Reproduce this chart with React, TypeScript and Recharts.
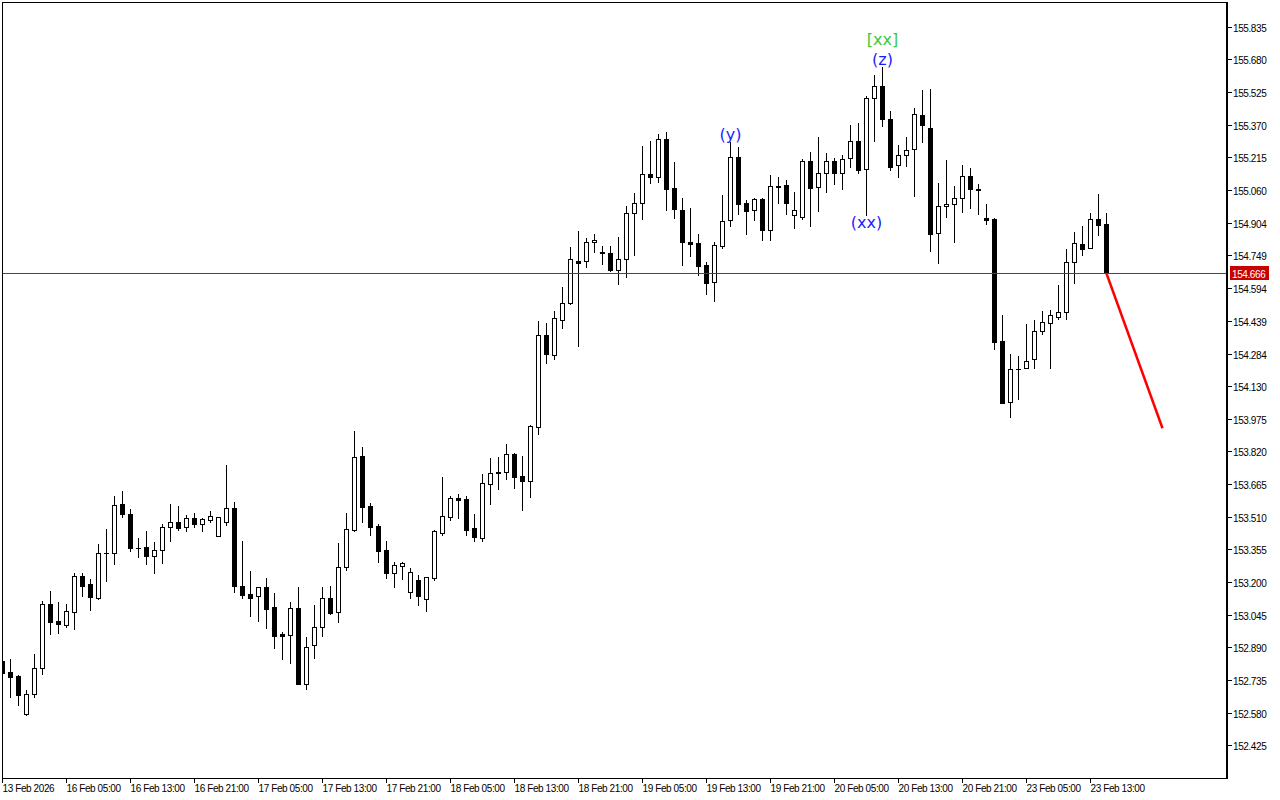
import React from 'react';
import { ComposedChart, Bar, Line, XAxis, YAxis, ReferenceLine, ReferenceDot } from 'recharts';

// H1 candles, 13 Feb 21:00 .. 23 Feb 15:00
const opens = [
  152.828, 152.776, 152.757, 152.577, 152.672, 152.795, 153.098, 153.018, 152.999, 153.060,
  153.231, 153.193, 153.127, 153.338, 153.340, 153.573, 153.525, 153.366, 153.369, 153.326,
  153.355, 153.464, 153.487, 153.464, 153.506, 153.478, 153.497, 153.421, 153.487, 153.554,
  153.184, 153.146, 153.136, 153.179, 153.084, 152.954, 152.951, 153.079, 152.719, 152.904,
  152.989, 153.127, 153.060, 153.274, 153.449, 153.800, 153.563, 153.468, 153.355, 153.245,
  153.279, 153.155, 153.212, 153.122, 153.222, 153.435, 153.511, 153.599, 153.596, 153.459,
  153.411, 153.668, 153.718, 153.724, 153.810, 153.705, 153.682, 153.938, 154.374, 154.279,
  154.445, 154.526, 154.723, 154.725, 154.815, 154.766, 154.763, 154.682, 154.735, 154.953,
  155.000, 155.138, 155.124, 155.304, 155.071, 154.967, 154.813, 154.811, 154.706, 154.626,
  154.796, 154.920, 155.218, 155.000, 154.967, 155.019, 154.872, 155.083, 155.086, 154.943,
  154.934, 155.199, 155.076, 155.143, 155.199, 155.143, 155.214, 155.294, 155.161, 155.498,
  155.555, 155.399, 155.180, 155.228, 155.256, 155.418, 155.356, 154.858, 154.986, 154.995,
  155.024, 155.128, 155.069, 154.927, 154.924, 154.346, 154.056, 154.211, 154.218, 154.260,
  154.393, 154.431, 154.460, 154.483, 154.720, 154.806, 154.787, 154.924, 154.901,
];

const highs = [
  152.842, 152.838, 152.762, 152.691, 152.861, 153.113, 153.160, 153.108, 153.098, 153.245,
  153.245, 153.217, 153.383, 153.454, 153.611, 153.634, 153.549, 153.411, 153.445, 153.392,
  153.478, 153.573, 153.563, 153.521, 153.530, 153.506, 153.539, 153.511, 153.758, 153.582,
  153.397, 153.255, 153.179, 153.222, 153.151, 152.966, 153.108, 153.179, 152.942, 153.094,
  153.179, 153.184, 153.388, 153.530, 153.919, 153.843, 153.577, 153.478, 153.397, 153.298,
  153.298, 153.269, 153.236, 153.226, 153.449, 153.701, 153.611, 153.620, 153.611, 153.525,
  153.715, 153.791, 153.796, 153.857, 153.815, 153.800, 153.947, 154.441, 154.431, 154.488,
  154.602, 154.792, 154.867, 154.834, 154.853, 154.796, 154.796, 154.839, 154.986, 155.048,
  155.271, 155.294, 155.327, 155.337, 155.195, 155.024, 154.977, 154.853, 154.720, 154.815,
  155.038, 155.290, 155.266, 155.014, 155.022, 155.022, 155.133, 155.124, 155.109, 155.052,
  155.209, 155.242, 155.313, 155.237, 155.214, 155.228, 155.370, 155.380, 155.508, 155.607,
  155.645, 155.437, 155.275, 155.313, 155.451, 155.536, 155.541, 155.095, 155.204, 155.081,
  155.180, 155.166, 155.090, 154.995, 154.929, 154.469, 154.284, 154.275, 154.426, 154.445,
  154.488, 154.493, 154.611, 154.782, 154.863, 154.891, 154.953, 155.043, 154.953,
];

const lows = [
  152.757, 152.657, 152.619, 152.572, 152.657, 152.766, 152.956, 152.961, 152.989, 152.980,
  153.136, 153.070, 153.122, 153.207, 153.288, 153.511, 153.350, 153.321, 153.288, 153.245,
  153.293, 153.397, 153.449, 153.445, 153.464, 153.445, 153.487, 153.421, 153.473, 153.155,
  153.127, 153.041, 153.018, 152.985, 152.890, 152.838, 152.819, 152.717, 152.695, 152.842,
  152.947, 153.051, 153.013, 153.260, 153.445, 153.487, 153.426, 153.298, 153.222, 153.179,
  153.217, 153.127, 153.094, 153.065, 153.212, 153.426, 153.497, 153.506, 153.426, 153.397,
  153.397, 153.573, 153.644, 153.691, 153.649, 153.544, 153.606, 153.905, 154.241, 154.260,
  154.407, 154.521, 154.322, 154.697, 154.768, 154.711, 154.678, 154.616, 154.649, 154.754,
  154.924, 155.095, 155.100, 154.967, 154.929, 154.706, 154.749, 154.659, 154.569, 154.535,
  154.787, 154.891, 154.948, 154.853, 154.920, 154.825, 154.825, 155.000, 154.948, 154.882,
  154.924, 154.891, 154.962, 155.052, 155.090, 155.067, 155.171, 155.143, 154.943, 155.294,
  155.365, 155.157, 155.124, 155.176, 155.033, 155.290, 154.773, 154.716, 154.934, 154.815,
  154.958, 154.977, 154.948, 154.901, 154.308, 154.050, 153.985, 154.071, 154.216, 154.218,
  154.379, 154.218, 154.450, 154.450, 154.621, 154.754, 154.785, 154.848, 154.664,
];

const closes = [
  152.771, 152.752, 152.667, 152.672, 152.795, 153.098, 153.013, 153.004, 153.065, 153.231,
  153.184, 153.132, 153.340, 153.342, 153.568, 153.525, 153.364, 153.362, 153.326, 153.355,
  153.464, 153.487, 153.459, 153.506, 153.478, 153.502, 153.516, 153.511, 153.554, 153.184,
  153.141, 153.127, 153.179, 153.075, 152.947, 152.949, 153.079, 152.719, 152.894, 152.989,
  153.127, 153.056, 153.274, 153.454, 153.796, 153.558, 153.464, 153.350, 153.245, 153.283,
  153.293, 153.250, 153.136, 153.226, 153.445, 153.516, 153.601, 153.594, 153.449, 153.416,
  153.672, 153.720, 153.724, 153.810, 153.701, 153.682, 153.943, 154.374, 154.284, 154.455,
  154.526, 154.735, 154.718, 154.815, 154.825, 154.761, 154.682, 154.735, 154.953, 155.000,
  155.138, 155.124, 155.304, 155.067, 154.972, 154.815, 154.808, 154.701, 154.621, 154.801,
  154.915, 155.218, 154.995, 154.962, 155.019, 154.872, 155.081, 155.078, 155.000, 154.967,
  155.199, 155.071, 155.143, 155.199, 155.143, 155.209, 155.294, 155.157, 155.498, 155.555,
  155.399, 155.171, 155.228, 155.252, 155.422, 155.370, 154.853, 154.986, 154.995, 155.024,
  155.128, 155.067, 155.064, 154.922, 154.341, 154.052, 154.213, 154.215, 154.251, 154.393,
  154.436, 154.469, 154.483, 154.720, 154.811, 154.782, 154.924, 154.896, 154.666,
];

// forecast segment (red line) from the last close
const forecast = [
  { bar: 138, price: 154.666 },
  { bar: 145, price: 153.932 },
];

const lastPrice = 154.666;

const xTickBars = [0, 8, 16, 24, 32, 40, 48, 56, 64, 72, 80, 88, 96, 104, 112, 120, 128, 136];
const xTickLabels = [
  '13 Feb 2026', '16 Feb 05:00', '16 Feb 13:00', '16 Feb 21:00', '17 Feb 05:00', '17 Feb 13:00',
  '17 Feb 21:00', '18 Feb 05:00', '18 Feb 13:00', '18 Feb 21:00', '19 Feb 05:00', '19 Feb 13:00',
  '19 Feb 21:00', '20 Feb 05:00', '20 Feb 13:00', '20 Feb 21:00', '23 Feb 05:00', '23 Feb 13:00',
];

const yTickLabels = [
  '155.835', '155.680', '155.525', '155.370', '155.215', '155.060', '154.904', '154.749',
  '154.594', '154.439', '154.284', '154.130', '153.975', '153.820', '153.665', '153.510',
  '153.355', '153.200', '153.045', '152.890', '152.735', '152.580', '152.425',
];
const yTickValues = yTickLabels.map(Number);

// wave labels drawn on the chart
const waveLabels = [
  { bar: 91, price: 155.325, text: '(y)', color: '#1c1cff' },
  { bar: 110, price: 155.776, text: '[xx]', color: '#3cc83c' },
  { bar: 110, price: 155.681, text: '(z)', color: '#1c1cff' },
  { bar: 108, price: 154.91, text: '(xx)', color: '#1c1cff' },
];

const TOTAL_BARS = 146;

const data = Array.from({ length: TOTAL_BARS }, (_, i) => {
  const f = forecast.find(p => p.bar === i);
  return {
    i,
    open: opens[i],
    high: highs[i],
    low: lows[i],
    close: closes[i],
    proj: f ? f.price : undefined,
  };
});

const axisFont = { fontFamily: 'Liberation Sans, Arial, sans-serif', fontSize: 10, letterSpacing: -0.4 };

const Candle = (props: any) => {
  const { x, y, width, height, payload } = props;
  if (!payload || payload.high == null || y == null || height == null) return null;
  const { open, high, low, close } = payload;
  const ppu = height / (high - low || 1);
  const py = (p: number) => Math.round(y + (high - p) * ppu) + 0.5;
  const cx = Math.round(x + width / 2 - 0.5) + 0.5;
  const up = close >= open;
  const top = py(Math.max(open, close));
  const bot = py(Math.min(open, close));
  return (
    <g>
      <line x1={cx} x2={cx} y1={py(high) - 0.5} y2={py(low) + 0.5} stroke="#000" strokeWidth={1} />
      {bot - top < 1 ? (
        <line x1={cx - 2.5} x2={cx + 2.5} y1={top} y2={top} stroke="#000" strokeWidth={1} />
      ) : (
        <rect x={cx - 2} y={top} width={4} height={bot - top} fill={up ? '#fff' : '#000'} stroke="#000" strokeWidth={1} />
      )}
    </g>
  );
};

const XTick = (props: any) => {
  const { x, y, payload } = props;
  const k = xTickBars.indexOf(payload.value);
  const xx = Math.round(x - 0.5) + 0.5;
  return (
    <g>
      <line x1={xx} x2={xx} y1={y + 1} y2={y + 5} stroke="#000" />
      <text x={xx} y={y + 14} fill="#000" style={axisFont}>{xTickLabels[k]}</text>
    </g>
  );
};

const YTick = (props: any) => {
  const { x, y, payload } = props;
  const yy = Math.round(y - 0.5) + 0.5;
  if (payload.value === lastPrice) {
    return (
      <g>
        <rect x={x + 4} y={yy - 7.5} width={39} height={14} fill="#c80000" />
        <text x={x + 6} y={yy + 0.5} dominantBaseline="central" fill="#fff" style={axisFont}>
          {lastPrice.toFixed(3)}
        </text>
      </g>
    );
  }
  const k = yTickValues.indexOf(payload.value);
  return (
    <g>
      <line x1={x + 2} x2={x + 6} y1={yy} y2={yy} stroke="#000" />
      <text x={x + 7} y={yy + 0.5} dominantBaseline="central" fill="#000" style={axisFont}>
        {yTickLabels[k]}
      </text>
    </g>
  );
};

export default function App() {
  return (
    <div style={{ position: 'absolute', left: 0, top: 0, width: 1280, height: 800, background: '#fff' }}>
      <ComposedChart width={1280} height={800} data={data} margin={{ top: 2, right: 0, bottom: 0, left: 2 }}>
        <XAxis
          dataKey="i"
          type="number"
          domain={[-0.0625, 152.9375]}
          allowDataOverflow
          ticks={xTickBars}
          interval={0}
          tick={XTick}
          axisLine={false}
          tickLine={false}
          tickSize={0}
          tickMargin={0}
          height={22}
        />
        <YAxis
          orientation="right"
          type="number"
          domain={[152.2732, 155.9536]}
          allowDataOverflow
          ticks={[...yTickValues, lastPrice]}
          interval={0}
          tick={YTick}
          axisLine={false}
          tickLine={false}
          tickSize={0}
          tickMargin={0}
          width={54}
        />
        <ReferenceLine y={lastPrice} stroke="#a81c1c" strokeWidth={1} />
        <Bar
          dataKey={(d: any) => (d.high != null ? [d.low, d.high] : null)}
          barSize={5}
          shape={Candle}
          isAnimationActive={false}
        />
        <Line
          dataKey="proj"
          stroke="#ff0000"
          strokeWidth={2.5}
          dot={false}
          activeDot={false}
          connectNulls
          isAnimationActive={false}
        />
        {waveLabels.map((w, n) => (
          <ReferenceDot
            key={n}
            x={w.bar}
            y={w.price}
            r={0}
            shape={(p: any) => (
              <text
                x={p.cx}
                y={p.cy}
                textAnchor="middle"
                dominantBaseline="central"
                fill={w.color}
                style={{ fontFamily: 'DejaVu Sans, sans-serif', fontSize: 16 }}
              >
                {w.text}
              </text>
            )}
          />
        ))}
      </ComposedChart>
      <div
        style={{
          position: 'absolute',
          left: 2,
          top: 2,
          width: 1223,
          height: 775,
          borderLeft: '1px solid #000',
          borderTop: '1px solid #000',
          borderBottom: '1px solid #000',
          borderRight: '2px solid #000',
          pointerEvents: 'none',
        }}
      />
    </div>
  );
}
